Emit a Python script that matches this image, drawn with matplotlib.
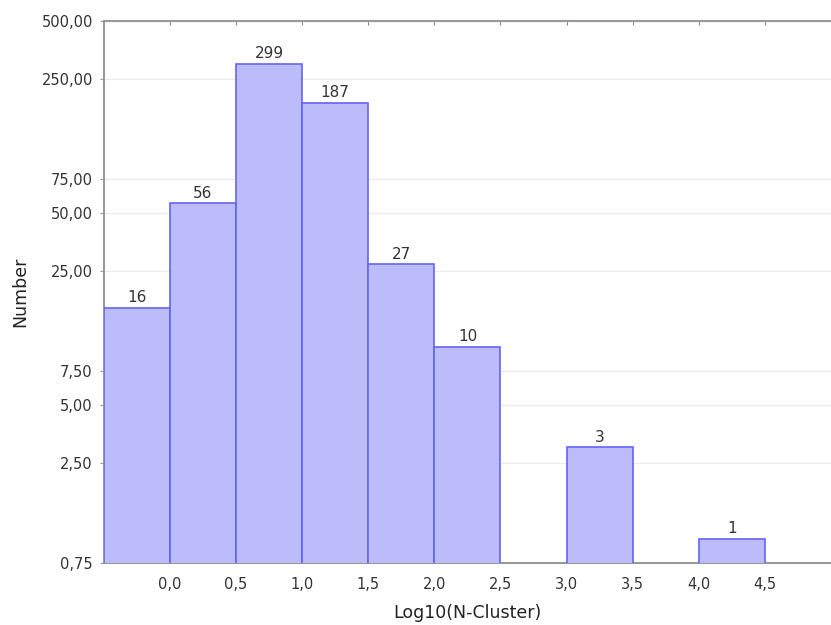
import numpy as np
import matplotlib.pyplot as plt
from matplotlib.ticker import FixedLocator, FuncFormatter, NullLocator

plt.rcParams['font.family'] = ['DejaVu Sans']

bin_left = [-0.5, 0.0, 0.5, 1.0, 1.5, 2.0, 3.0, 4.0]
counts = [16, 56, 299, 187, 27, 10, 3, 1]
bin_width = 0.5
yticks = [0.75, 2.5, 5.0, 7.5, 25, 50, 75, 250, 500]
xticks = [0.0, 0.5, 1.0, 1.5, 2.0, 2.5, 3.0, 3.5, 4.0, 4.5]

fig = plt.figure(figsize=(8.31, 6.25), dpi=100)
ax = fig.add_axes([0.125, 0.0992, 0.875, 0.8672])

ax.set_yscale('log')
ax.bar(bin_left, counts, width=bin_width, align='edge',
       color='#bcbcfb', edgecolor='#6464f5', linewidth=1.2, zorder=3)
ax.set_ylim(0.75, 500)
ax.set_xlim(-0.5, 5.0)

for x, c in zip(bin_left, counts):
    ax.annotate(str(c), (x + bin_width / 2, c), xytext=(0, 2),
                textcoords='offset points', ha='center', va='bottom',
                fontsize=11, color='#333333', zorder=4)

ax.yaxis.set_major_locator(FixedLocator(yticks))
ax.yaxis.set_minor_locator(NullLocator())
ax.yaxis.set_major_formatter(FuncFormatter(lambda v, p: f'{v:.2f}'.replace('.', ',')))
ax.xaxis.set_major_locator(FixedLocator(xticks))
ax.xaxis.set_major_formatter(FuncFormatter(lambda v, p: f'{v:.1f}'.replace('.', ',')))

ax.grid(axis='y', color='#ececec', linewidth=1, zorder=0)
for s in ['left', 'bottom', 'top']:
    ax.spines[s].set_color('#999999')
    ax.spines[s].set_linewidth(1.5)
ax.spines['right'].set_visible(False)

ax.tick_params(axis='y', direction='out', length=3, color='#999999',
               labelsize=10.5, labelcolor='#333333', pad=5)
ax.tick_params(axis='x', which='major', bottom=False, top=True, direction='in',
               length=3, color='#888888', labelsize=10.5, labelcolor='#333333', pad=10)

ax.set_xlabel('Log10(N-Cluster)', fontsize=12.5, color='#222222', labelpad=9)
ax.set_ylabel('Number', fontsize=12.5, color='#222222', labelpad=9)

plt.savefig('out.png', dpi=100)
